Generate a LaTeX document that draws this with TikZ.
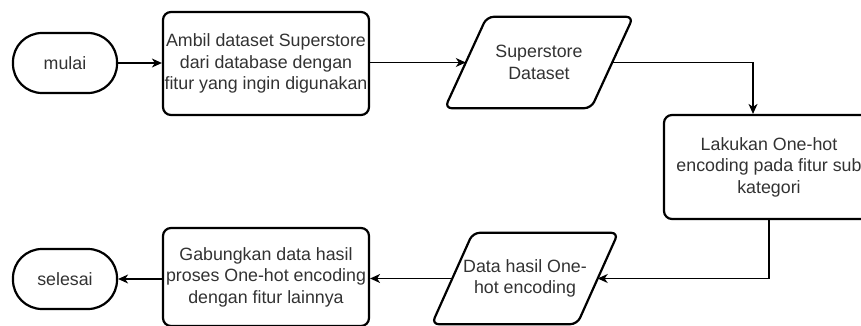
\documentclass[tikz,border=0pt]{standalone}
\usepackage{fontspec}
\setmainfont{Liberation Sans}
\usetikzlibrary{arrows.meta,calc}
\definecolor{inkgray}{RGB}{50,50,50}
\begin{document}
\begin{tikzpicture}[x=1pt,y=-1pt,
  every node/.style={font=\fontsize{17.8}{21.4}\selectfont, text=inkgray, align=center, inner sep=0pt},
  terminal/.style={draw, line width=2.2pt, rounded corners=29pt, minimum width=104pt, minimum height=60pt},
  process/.style={draw, line width=2.2pt, rounded corners=8pt, minimum width=206pt, minimum height=103pt},
  iolabel/.style={minimum width=188pt, minimum height=91pt},
  ioshape/.style={line width=2.2pt, rounded corners=7pt},
  flow/.style={line width=1.3pt, -{Stealth[length=10pt,width=9pt,inset=3pt]}}]
\useasboundingbox (0,0) rectangle (861,326);

% top row
\node[terminal] (start) at (65,63) {mulai};
\node[process] (load) at (266,63.5) {Ambil dataset Superstore\\dari database dengan\\fitur yang ingin digunakan};
\node[iolabel] (ds) at (539,62.5) {Superstore\\Dataset};
\draw[ioshape] ($(ds.north west)+(42,0)$) -- (ds.north east) -- ($(ds.south east)+(-42,0)$) -- (ds.south west) -- cycle;
\coordinate (dsIn) at ($(ds.west)+(21,0)$);
\coordinate (dsOut) at ($(ds.east)+(-21,0)$);

% right column
\node[process, minimum width=210pt, minimum height=104pt] (onehot) at (769,167) {Lakukan One-hot\\encoding pada fitur sub\\kategori};
\coordinate (drop) at ($(onehot.north)+(-16,0)$);

% bottom row
\node[iolabel, minimum width=186pt] (res) at (525,278.5) {Data hasil One-\\hot encoding};
\draw[ioshape] ($(res.north west)+(41,0)$) -- (res.north east) -- ($(res.south east)+(-41,0)$) -- (res.south west) -- cycle;
\coordinate (resIn) at ($(res.east)+(-20.5,0)$);
\coordinate (resOut) at ($(res.west)+(20.5,0)$);
\node[process, minimum height=98pt] (merge) at (266,277) {Gabungkan data hasil\\proses One-hot encoding\\dengan fitur lainnya};
\node[terminal] (finish) at (65,279) {selesai};

% connectors
\draw[flow] (start.east) -- (start.east -| load.west);
\draw[flow] (load.east |- dsIn) -- (dsIn);
\draw[flow] (dsOut) -| (drop);
\draw[flow] (onehot.south) |- (resIn);
\draw[flow] (resOut) -- (merge.east |- resOut);
\draw[flow] (merge.west |- finish.east) -- (finish.east);
\end{tikzpicture}
\end{document}
